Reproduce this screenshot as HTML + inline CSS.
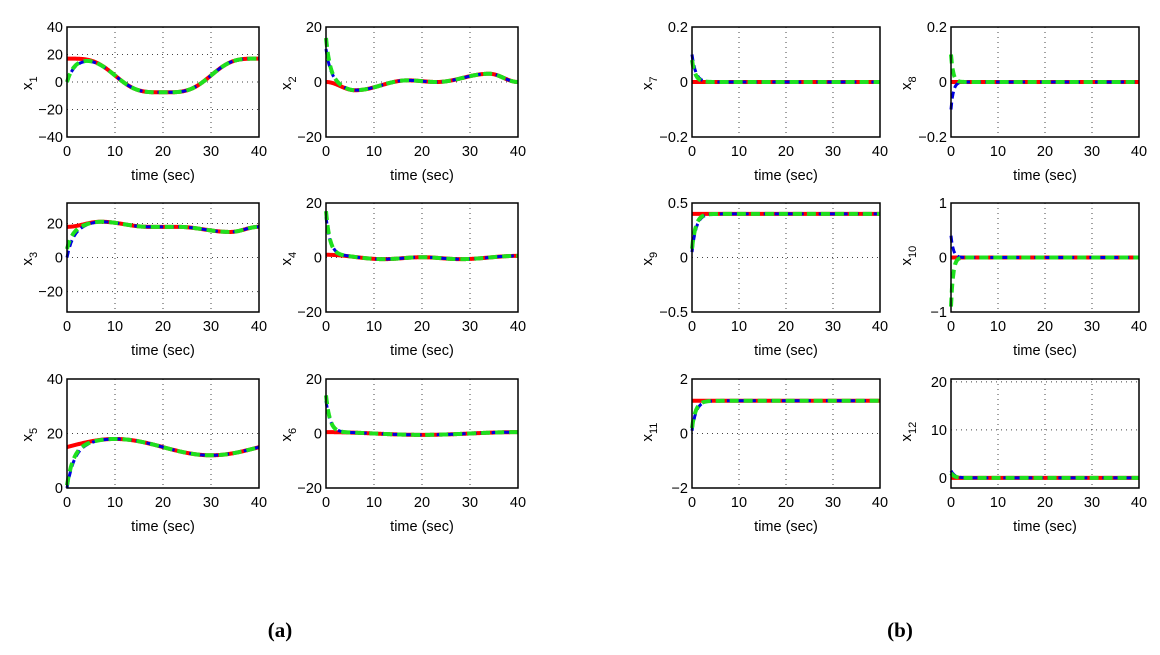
<!DOCTYPE html>
<html><head><meta charset="utf-8"><style>
html,body{margin:0;padding:0;background:#fff;}
svg text{font-family:"Liberation Sans",sans-serif;}
</style></head><body>
<svg id="s" width="1160" height="650" xmlns="http://www.w3.org/2000/svg">
<text x="280" y="637" text-anchor="middle" style="font-family:'Liberation Serif',serif;font-weight:bold;font-size:21px">(a)</text>
<text x="900" y="637" text-anchor="middle" style="font-family:'Liberation Serif',serif;font-weight:bold;font-size:21px">(b)</text>
</svg>
<script>
const S=document.getElementById('s');const NS='http://www.w3.org/2000/svg';
function el(t,a,txt){const e=document.createElementNS(NS,t);for(const k in a)e.setAttribute(k,a[k]);if(txt!==undefined)e.textContent=txt;S.appendChild(e);return e;}
function interp(pts){return t=>{for(let i=0;i<pts.length-1;i++){const [a,va]=pts[i],[b,vb]=pts[i+1];if(t<=b){const u=(t-a)/(b-a);const s=(1-Math.cos(Math.PI*u))/2;return va+(vb-va)*s;}}return pts[pts.length-1][1];};}
const cols=[[67,259],[326,518],[692,880],[951,1139]];
const rows=[[27,137],[203,312],[379,488]];
const C=Math.cos,Sn=Math.sin,P=Math.PI,w=2*P/40;
const plots=[
 {c:0,r:0,n:'1',yr:[-40,40],yt:[-40,-20,0,20,40],ref:t=>4.75+13.78*C(w*t)-1.53*C(3*w*t),b0:0,g0:0,tau:1.6},
 {c:1,r:0,n:'2',yr:[-20,20],yt:[-20,0,20],ref:interp([[0,0],[6,-3],[17,0.6],[23,0],[34,3],[40,0]]),b0:12,g0:16,tau:1.0},
 {c:0,r:1,n:'3',yr:[-32,32],yt:[-20,0,20],ref:interp([[0,18],[7,21],[17,18],[23,18],[34,15],[40,18]]),b0:0,g0:5,tau:1.3},
 {c:1,r:1,n:'4',yr:[-20,20],yt:[-20,0,20],ref:interp([[0,1],[12,-0.6],[20,0.1],[28,-0.6],[40,0.6]]),b0:15,g0:17,tau:0.9},
 {c:0,r:2,n:'5',yr:[0,40],yt:[0,20,40],ref:t=>15+3*Sn(w*t),b0:0,g0:1,tau:1.5},
 {c:1,r:2,n:'6',yr:[-20,20],yt:[-20,0,20],ref:t=>0.5*C(w*t),b0:12,g0:14,tau:0.9},
 {c:2,r:0,n:'7',yr:[-0.2,0.2],yt:[-0.2,0,0.2],ref:t=>0,b0:0.1,g0:0.08,tau:0.8},
 {c:3,r:0,n:'8',yr:[-0.2,0.2],yt:[-0.2,0,0.2],ref:t=>0,b0:-0.1,g0:0.1,tau:0.5},
 {c:2,r:1,n:'9',yr:[-0.5,0.5],yt:[-0.5,0,0.5],ref:t=>0.4,b0:0.05,g0:0.08,tau:0.9},
 {c:3,r:1,n:'10',yr:[-1,1],yt:[-1,0,1],ref:t=>0,b0:0.4,g0:-0.9,tau:0.5},
 {c:2,r:2,n:'11',yr:[-2,2],yt:[-2,0,2],ref:t=>1.2,b0:0.1,g0:0.2,tau:0.9},
 {c:3,r:2,n:'12',yr:[-2.1,20.6],yt:[0,10,20],ref:t=>0,b0:1.5,g0:1,tau:0.8},
];
for(const p of plots){
 const [x0,x1]=cols[p.c],[y0,y1]=rows[p.r];
 const X=t=>x0+(x1-x0)*t/40,Y=v=>y1-(y1-y0)*(v-p.yr[0])/(p.yr[1]-p.yr[0]);
 el('rect',{x:x0,y:y0,width:x1-x0,height:y1-y0,fill:'#fff'});
 for(const t of [10,20,30])el('line',{x1:X(t),x2:X(t),y1:y0,y2:y1,stroke:'#444','stroke-width':1,'stroke-dasharray':'1 4'});
 for(const v of p.yt){const yy=Y(v);if(yy>y0+1&&yy<y1-1)el('line',{x1:x0,x2:x1,y1:yy,y2:yy,stroke:'#444','stroke-width':1,'stroke-dasharray':'1 4'});}
 const path=f=>{let d='';for(let i=0;i<=400;i++){const t=i/10;d+=(i?'L':'M')+X(t).toFixed(1)+','+Y(f(t)).toFixed(2);}return d;};
 const r0=p.ref(0);
 const fb=t=>p.ref(t)+(p.b0-r0)*Math.exp(-t/p.tau);
 const fg=t=>p.ref(t)+(p.g0-r0)*Math.exp(-t/(p.tau*0.9));
 el('path',{d:path(p.ref),fill:'none',stroke:'#f00','stroke-width':4});
 el('path',{d:path(fb),fill:'none',stroke:'#0000e0','stroke-width':3,'stroke-dasharray':'7 4'});
 el('path',{d:path(fg),fill:'none',stroke:'#1ee01e','stroke-width':4,'stroke-dasharray':'9 5'});
 el('rect',{x:x0,y:y0,width:x1-x0,height:y1-y0,fill:'none',stroke:'#000','stroke-width':1.5});
 for(const t of [0,10,20,30,40]){
  el('text',{x:X(t),y:y1+19,'text-anchor':'middle','font-size':14.5},String(t));
 }
 for(const v of p.yt){
  const s=(v<0?'\u2212'+Math.abs(v):String(v));
  el('text',{x:x0-4,y:Y(v)+5,'text-anchor':'end','font-size':14.5},s);
 }
 el('text',{x:(x0+x1)/2,y:y1+43,'text-anchor':'middle','font-size':14.5},'time (sec)');
 const lx=x0-(p.c<2?40:45),ly=(y0+y1)/2;
 const t=el('text',{x:0,y:0,'font-size':15,transform:`translate(${lx+5},${ly+8}) rotate(-90)`},'x');
 const ts=document.createElementNS(NS,'tspan');ts.setAttribute('font-size',11);ts.setAttribute('dy',5);ts.textContent=p.n;t.appendChild(ts);
}
</script>
</body></html>
